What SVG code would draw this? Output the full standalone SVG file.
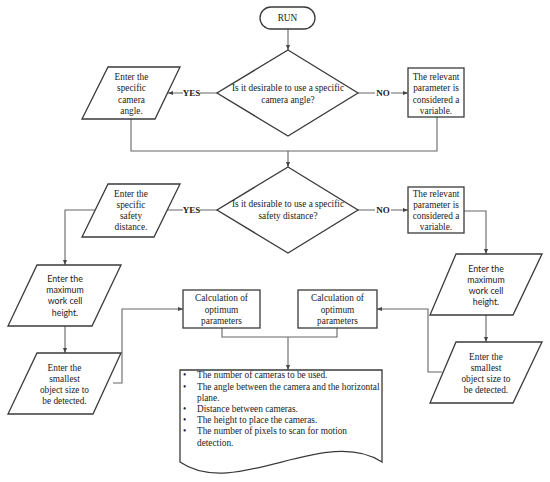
<svg xmlns="http://www.w3.org/2000/svg" width="550" height="482" viewBox="0 0 550 482">
<defs>
<marker id="arr" viewBox="0 0 10 10" refX="10" refY="5" markerWidth="5" markerHeight="5" orient="auto" markerUnits="userSpaceOnUse">
<path d="M0,1 L10,5 L0,9 z" fill="#444"/>
</marker>
</defs>
<style>
.shape{fill:#fff;stroke:#3a3a3a;stroke-width:1.3}
.con{fill:none;stroke:#666;stroke-width:1.1}
.t{font-family:"Liberation Serif","Times New Roman",serif;font-size:9.3px;fill:#222;text-anchor:middle}
.s{font-family:Lato,"Liberation Sans",sans-serif;font-size:8.8px;fill:#222;text-anchor:middle}
.b{font-family:"Liberation Serif","Times New Roman",serif;font-size:9px;font-weight:bold;fill:#222;text-anchor:middle}
.l{font-family:"Liberation Serif","Times New Roman",serif;font-size:9.3px;fill:#222}
</style>
<rect width="550" height="482" fill="#fff"/>
<g id="connectors">
<path class="con" d="M288,29 V50" marker-end="url(#arr)"/>
<path class="con" d="M217,93 H200 M183,93 H168" marker-end="url(#arr)"/>
<path class="con" d="M358,93 H375 M391,93 H408" marker-end="url(#arr)"/>
<path class="con" d="M131,119 V151 H437 V117"/>
<path class="con" d="M288,151 V167" marker-end="url(#arr)"/>
<path class="con" d="M217,210 H200 M183,210 H155" marker-end="url(#arr)"/>
<path class="con" d="M358,210 H375 M391,210 H408" marker-end="url(#arr)"/>
<path class="con" d="M95,210 H65 V265" marker-end="url(#arr)"/>
<path class="con" d="M464,211 H486 V254" marker-end="url(#arr)"/>
<path class="con" d="M65,326 V353" marker-end="url(#arr)"/>
<path class="con" d="M486,315 V342" marker-end="url(#arr)"/>
<path class="con" d="M113,383 H122 V309 H183" marker-end="url(#arr)"/>
<path class="con" d="M442,372 H428 V309 H377" marker-end="url(#arr)"/>
<path class="con" d="M222,328 V337 H337 V328"/>
<path class="con" d="M288,337 V370" marker-end="url(#arr)"/>
</g>
<g id="labels">
<text class="b" x="191.5" y="96.2">YES</text>
<text class="b" x="383" y="96.2">NO</text>
<text class="b" x="191.5" y="213.2">YES</text>
<text class="b" x="383" y="213.2">NO</text>
</g>
<g id="run">
<rect class="shape" x="260" y="7" width="55" height="22" rx="11"/>
<text class="t" x="287.5" y="21.3">RUN</text>
</g>
<g id="decision1">
<path class="shape" d="M288,50 L358,93 L288,136 L217,93 Z"/>
<text class="t" x="288" y="91.3">Is it desirable to use a specific</text>
<text class="t" x="288" y="102.5">camera angle?</text>
</g>
<g id="input-camera-angle">
<path class="shape" d="M108,67 L180,67 L155,119 L82,119 Z"/>
<text class="t" x="131.5" y="79.5">Enter the</text>
<text class="t" x="131.5" y="91">specific</text>
<text class="t" x="131.5" y="102.5">camera</text>
<text class="t" x="131.5" y="113.5">angle.</text>
</g>
<g id="variable1">
<rect class="shape" x="408" y="68" width="56" height="49"/>
<text class="t" x="436" y="79.5">The relevant</text>
<text class="t" x="436" y="91">parameter is</text>
<text class="t" x="436" y="102.5">considered a</text>
<text class="t" x="436" y="113.5">variable.</text>
</g>
<g id="decision2">
<path class="shape" d="M288,167 L358,210 L288,253 L217,210 Z"/>
<text class="t" x="288" y="207.3">Is it desirable to use a specific</text>
<text class="t" x="288" y="219">safety distance?</text>
</g>
<g id="input-safety-distance">
<path class="shape" d="M108,184 L180,184 L154,237 L82,237 Z"/>
<text class="t" x="131" y="196.5">Enter the</text>
<text class="t" x="131" y="207.5">specific</text>
<text class="t" x="131" y="218.5">safety</text>
<text class="t" x="131" y="230">distance.</text>
</g>
<g id="variable2">
<rect class="shape" x="408" y="187" width="56" height="46"/>
<text class="t" x="436" y="196.5">The relevant</text>
<text class="t" x="436" y="207.5">parameter is</text>
<text class="t" x="436" y="218.5">considered a</text>
<text class="t" x="436" y="230">variable.</text>
</g>
<g id="input-max-height-left">
<path class="shape" d="M37,265 L121,265 L92,326 L8,326 Z"/>
<text class="s" x="65" y="281.5">Enter the</text>
<text class="s" x="65" y="293">maximum</text>
<text class="s" x="65" y="304.3">work cell</text>
<text class="s" x="65" y="315.5">height.</text>
</g>
<g id="input-object-size-left">
<path class="shape" d="M37,353 L121,353 L93,414 L8,414 Z"/>
<text class="t" x="64.5" y="370.5">Enter the</text>
<text class="t" x="64.5" y="381.5">smallest</text>
<text class="t" x="64.5" y="392.5">object size to</text>
<text class="t" x="64.5" y="403.5">be detected.</text>
</g>
<g id="input-max-height-right">
<path class="shape" d="M456,254 L542,254 L513,315 L430,315 Z"/>
<text class="s" x="486" y="271.5">Enter the</text>
<text class="s" x="486" y="282.7">maximum</text>
<text class="s" x="486" y="293.9">work cell</text>
<text class="s" x="486" y="305">height.</text>
</g>
<g id="input-object-size-right">
<path class="shape" d="M456,342 L542,342 L513,403 L430,403 Z"/>
<text class="t" x="486" y="359.5">Enter the</text>
<text class="t" x="486" y="370.5">smallest</text>
<text class="t" x="486" y="381.5">object size to</text>
<text class="t" x="486" y="392.5">be detected.</text>
</g>
<g id="calc1">
<rect class="shape" x="183" y="290" width="77" height="38"/>
<text class="t" x="221.5" y="301.3">Calculation of</text>
<text class="t" x="221.5" y="312.5">optimum</text>
<text class="t" x="221.5" y="324">parameters</text>
</g>
<g id="calc2">
<rect class="shape" x="298" y="290" width="79" height="38"/>
<text class="t" x="337.5" y="301.3">Calculation of</text>
<text class="t" x="337.5" y="312.5">optimum</text>
<text class="t" x="337.5" y="324">parameters</text>
</g>
<g id="output-document">
<path class="shape" d="M180,370 H382 V462 C325,425 235,500 180,462 Z"/>
<text class="l" x="183" y="378">•</text>
<text class="l" x="197" y="378">The number of cameras to be used.</text>
<text class="l" x="183" y="389.5">•</text>
<text class="l" x="197" y="389.5">The angle between the camera and the horizontal</text>
<text class="l" x="197" y="400.5">plane.</text>
<text class="l" x="183" y="411.5">•</text>
<text class="l" x="197" y="411.5">Distance between cameras.</text>
<text class="l" x="183" y="422.5">•</text>
<text class="l" x="197" y="422.5">The height to place the cameras.</text>
<text class="l" x="183" y="434">•</text>
<text class="l" x="197" y="434">The number of pixels to scan for motion</text>
<text class="l" x="197" y="446">detection.</text>
</g>
</svg>
